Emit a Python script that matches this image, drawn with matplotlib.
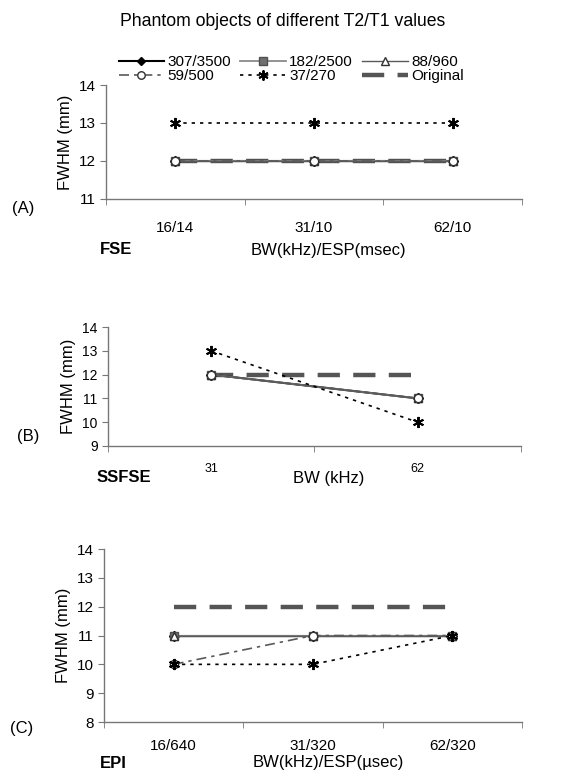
import matplotlib
matplotlib.use('Agg')
import matplotlib.pyplot as plt

plt.rcParams['font.family'] = ['Liberation Sans', 'DejaVu Sans']

# legend labels (T2/T1 values)
series_names = ['307/3500', '182/2500', '88/960', '59/500', '37/270', 'Original']

# panel A - FSE
cats_a = ['16/14', '31/10', '62/10']
a_307 = [12, 12, 12]
a_182 = [12, 12, 12]
a_88 = [12, 12, 12]
a_59 = [12, 12, 12]
a_37 = [13, 13, 13]
a_orig = [12, 12, 12]

# panel B - SSFSE
cats_b = ['31', '62']
b_307 = [12, 11]
b_182 = [12, 11]
b_88 = [12, 11]
b_59 = [12, 11]
b_37 = [13, 10]
b_orig = [12, 12]

# panel C - EPI
cats_c = ['16/640', '31/320', '62/320']
c_307 = [11, 11, 11]
c_182 = [11, 11, 11]
c_88 = [11, 11, 11]
c_59 = [10, 11, 11]
c_37 = [10, 10, 11]
c_orig = [12, 12, 12]

# styles for each series
styles = [
    dict(color='black', lw=1.5, ls='-', marker='D', ms=5, mfc='black', mec='black'),
    dict(color='#8a8a8a', lw=1.3, ls='-', marker='s', ms=6, mfc='#707070', mec='#505050'),
    dict(color='#5a5a5a', lw=1.0, ls='-', marker='^', ms=6, mfc='white', mec='#303030'),
    dict(color='#5a5a5a', lw=1.2, ls=(0, (6, 3, 2, 3)), marker='o', ms=6, mfc='white', mec='#303030'),
    dict(color='black', lw=1.2, ls=(0, (2, 3)), marker=(6, 2, 0), ms=8, mfc='black', mec='black', mew=1.4),
    dict(color='#555555', lw=3.2, ls=(0, (5, 3)), marker=None),
]

fig = plt.figure(figsize=(5.71, 7.70), dpi=100)


def draw_panel(ax, cats, data, ylim, tick_fs):
    x = list(range(len(cats)))
    order = [5, 0, 1, 2, 3, 4]  # original at the back, then series order
    hs = {}
    for z, i in enumerate(order):
        h, = ax.plot(x, data[i], label=series_names[i], zorder=2 + z, **styles[i])
        hs[i] = h
    ax.set_xlim(-0.5, len(cats) - 0.5)
    ax.set_ylim(*ylim)
    ax.set_yticks(range(ylim[0], ylim[1] + 1))
    ax.set_xticks(x)
    ax.set_xticklabels(cats, fontsize=tick_fs)
    ax.set_xticks([k - 0.5 for k in range(len(cats) + 1)], minor=True)
    ax.tick_params(axis='x', which='major', length=0, pad=14)
    ax.tick_params(axis='x', which='minor', length=4, direction='out', color='#777777')
    ax.tick_params(axis='y', length=4, direction='out', color='#777777', labelsize=11)
    for s in ['top', 'right']:
        ax.spines[s].set_visible(False)
    for s in ['left', 'bottom']:
        ax.spines[s].set_color('#777777')
        ax.spines[s].set_linewidth(1.0)
    ax.set_ylabel('FWHM (mm)', fontsize=12)
    return [hs[i] for i in range(6)]


ax_a = fig.add_axes([0.1856, 0.7416, 0.7285, 0.148])
handles = draw_panel(ax_a, cats_a, [a_307, a_182, a_88, a_59, a_37, a_orig], (11, 14), 11)
ax_a.tick_params(axis='x', which='major', pad=16)

ax_b = fig.add_axes([0.189, 0.4208, 0.7233, 0.1545])
draw_panel(ax_b, cats_b, [b_307, b_182, b_88, b_59, b_37, b_orig], (9, 14), 9)
ax_b.tick_params(axis='y', labelsize=10)
ax_b.tick_params(axis='x', which='major', pad=12)

ax_c = fig.add_axes([0.1821, 0.0623, 0.732, 0.2247])
draw_panel(ax_c, cats_c, [c_307, c_182, c_88, c_59, c_37, c_orig], (8, 14), 11)
ax_c.tick_params(axis='x', which='major', pad=12)

# x-axis labels and sequence names
fig.text(328 / 571, 1 - 250 / 770, 'BW(kHz)/ESP(msec)', ha='center', va='center', fontsize=12)
fig.text(100 / 571, 1 - 250 / 770, 'FSE', ha='left', va='center', fontsize=12, fontweight='bold')
fig.text(329 / 571, 1 - 478 / 770, 'BW (kHz)', ha='center', va='center', fontsize=12)
fig.text(97 / 571, 1 - 478 / 770, 'SSFSE', ha='left', va='center', fontsize=12, fontweight='bold')
fig.text(328 / 571, 1 - 763 / 770, 'BW(kHz)/ESP(µsec)', ha='center', va='center', fontsize=12)
fig.text(100 / 571, 1 - 763 / 770, 'EPI', ha='left', va='center', fontsize=12, fontweight='bold')

# panel letters
fig.text(23 / 571, 1 - 208 / 770, '(A)', ha='center', va='center', fontsize=12)
fig.text(28 / 571, 1 - 437 / 770, '(B)', ha='center', va='center', fontsize=12)
fig.text(22 / 571, 1 - 728 / 770, '(C)', ha='center', va='center', fontsize=12)

fig.text(283 / 571, 1 - 22 / 770, 'Phantom objects of different T2/T1 values',
         ha='center', va='center', fontsize=12.7)

# legend filled row by row
leg_order = [0, 3, 1, 4, 2, 5]
fig.legend([handles[i] for i in leg_order], [series_names[i] for i in leg_order],
           ncol=3, loc='center', bbox_to_anchor=(291 / 571, 1 - 69 / 770),
           frameon=False, fontsize=11, handlelength=3.0, handletextpad=0.2,
           columnspacing=0.6, labelspacing=0.0, borderpad=0, markerscale=0.9)

fig.savefig('out.png', dpi=100)
